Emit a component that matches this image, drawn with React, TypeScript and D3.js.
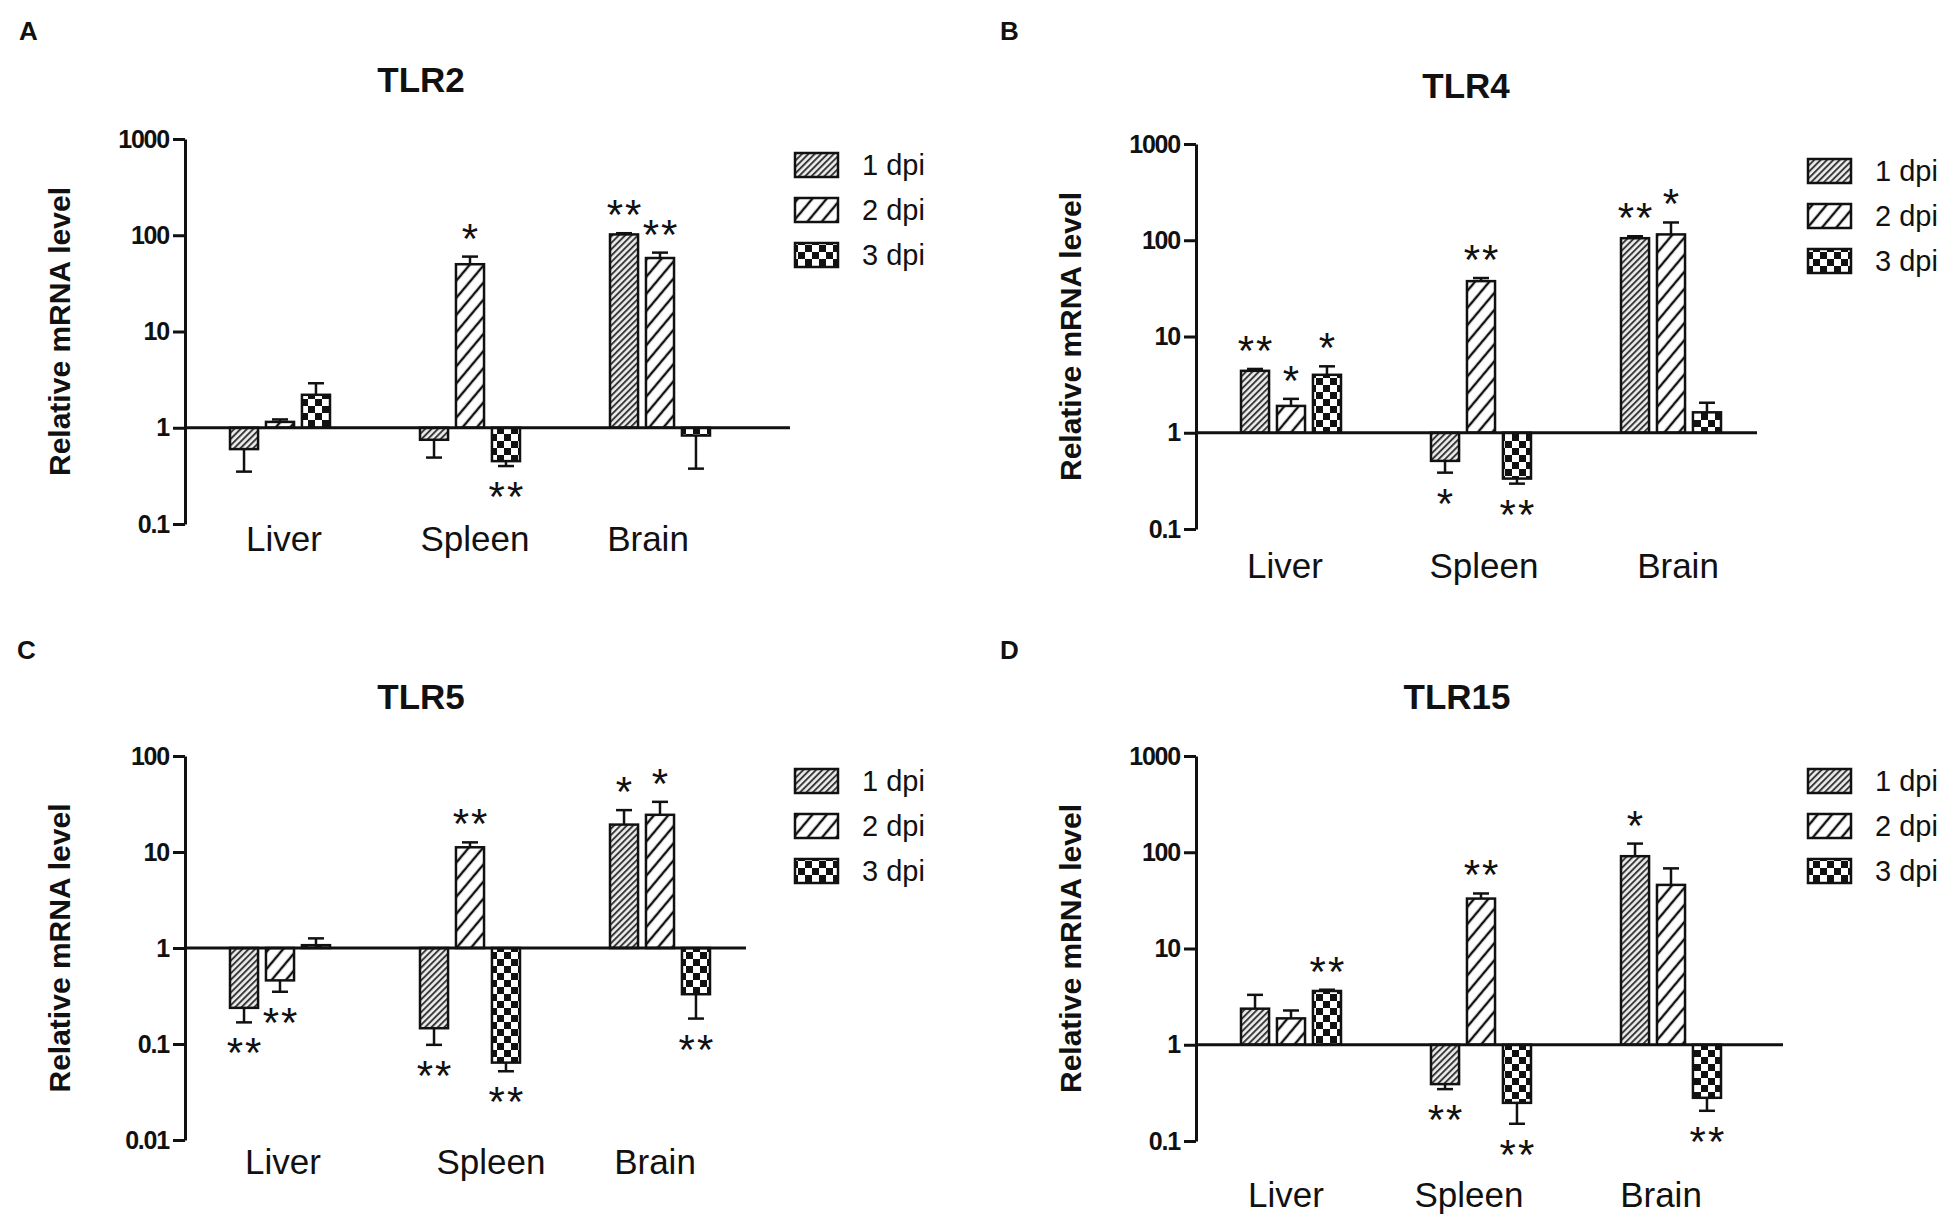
import { useEffect, useRef } from "react";
import * as d3 from "d3";

const categories = ["Liver", "Spleen", "Brain"];
const seriesNames = ["1 dpi", "2 dpi", "3 dpi"];

// rows = tissue, columns = 1/2/3 dpi
const tlr2Mean = [[0.6, 1.15, 2.2], [0.75, 50, 0.45], [102, 58, 0.83]];
const tlr2Err = [[0.35, 1.22, 2.9], [0.49, 60, 0.4], [105, 66, 0.376]];
const tlr2Sig = [["", "", ""], ["", "*", "**"], ["**", "**", ""]];

const tlr4Mean = [[4.4, 1.9, 4.0], [0.51, 37.6, 0.334], [105, 115, 1.63]];
const tlr4Err = [[4.6, 2.25, 4.9], [0.385, 40.5, 0.296], [110, 153, 2.05]];
const tlr4Sig = [["**", "*", "*"], ["*", "**", "**"], ["**", "*", ""]];

const tlr5Mean = [[0.238, 0.46, 1.07], [0.146, 11.2, 0.064], [19.3, 24.4, 0.33]];
const tlr5Err = [[0.168, 0.35, 1.26], [0.098, 12.6, 0.052], [27.3, 33.3, 0.184]];
const tlr5Sig = [["**", "**", ""], ["**", "**", "**"], ["*", "*", "**"]];

const tlr15Mean = [[2.37, 1.88, 3.62], [0.39, 33, 0.249], [91, 45.8, 0.281]];
const tlr15Err = [[3.3, 2.27, 3.73], [0.346, 37.3, 0.151], [123, 68, 0.206]];
const tlr15Sig = [["", "", "**"], ["**", "**", "**"], ["*", "", "**"]];

const ticksWide = [0.1, 1, 10, 100, 1000];
const ticksLow = [0.01, 0.1, 1, 10, 100];

const FONT = "'Liberation Sans', Arial, sans-serif";

interface PanelSpec {
  letter: string;
  title: string;
  mean: number[][];
  err: number[][];
  sig: string[][];
  ticks: number[];
  left: number;
  top: number;
  bottom: number;
  baseEnd: number;
  letterX: number;
  letterY: number;
  titleX: number;
  titleY: number;
  labelY: number;
  labelDx: number[];
  legendX: number;
  legendY: number;
}

const panels: PanelSpec[] = [
  { letter: "A", title: "TLR2", mean: tlr2Mean, err: tlr2Err, sig: tlr2Sig, ticks: ticksWide,
    left: 185, top: 139, bottom: 524, baseEnd: 790, letterX: 19, letterY: 40, titleX: 421, titleY: 92,
    labelY: 551, labelDx: [4, 5, -12], legendX: 795, legendY: 153 },
  { letter: "B", title: "TLR4", mean: tlr4Mean, err: tlr4Err, sig: tlr4Sig, ticks: ticksWide,
    left: 1196, top: 144, bottom: 529, baseEnd: 1757, letterX: 1000, letterY: 40, titleX: 1466, titleY: 98,
    labelY: 578, labelDx: [-6, 3, 7], legendX: 1808, legendY: 159 },
  { letter: "C", title: "TLR5", mean: tlr5Mean, err: tlr5Err, sig: tlr5Sig, ticks: ticksLow,
    left: 185, top: 756, bottom: 1140, baseEnd: 746, letterX: 17, letterY: 659, titleX: 421, titleY: 709,
    labelY: 1174, labelDx: [3, 21, -5], legendX: 795, legendY: 769 },
  { letter: "D", title: "TLR15", mean: tlr15Mean, err: tlr15Err, sig: tlr15Sig, ticks: ticksWide,
    left: 1196, top: 756, bottom: 1141, baseEnd: 1783, letterX: 1000, letterY: 659, titleX: 1457, titleY: 709,
    labelY: 1207, labelDx: [-5, -12, -10], legendX: 1808, legendY: 769 },
];

const patternIds = ["pat-1dpi", "pat-2dpi", "pat-3dpi"];

function drawPanel(svg: d3.Selection<SVGSVGElement, unknown, null, undefined>, p: PanelSpec) {
  const g = svg.append("g");
  const y = d3.scaleLog().domain([p.ticks[0], p.ticks[p.ticks.length - 1]]).range([p.bottom, p.top]);
  const x0 = d3.scaleBand().domain(categories).range([p.left, p.left + 570]).padding(0);
  const x1 = d3.scaleBand().domain(seriesNames).range([-50, 50]).paddingInner(0.22);
  const y1 = y(1);

  categories.forEach((cat, i) => {
    const c = x0(cat)! + x0.bandwidth() / 2;
    seriesNames.forEach((s, j) => {
      const v = p.mean[i][j];
      const e = p.err[i][j];
      const bx = c + x1(s)!;
      const bw = x1.bandwidth();
      const yv = y(v);
      const ye = y(e);
      const xc = bx + bw / 2;
      g.append("line").attr("x1", xc).attr("x2", xc).attr("y1", yv).attr("y2", ye)
        .attr("stroke", "#111").attr("stroke-width", 2.5);
      g.append("line").attr("x1", xc - 8).attr("x2", xc + 8).attr("y1", ye).attr("y2", ye)
        .attr("stroke", "#111").attr("stroke-width", 2.5);
      g.append("rect")
        .attr("x", bx).attr("y", Math.min(yv, y1))
        .attr("width", bw).attr("height", Math.abs(yv - y1))
        .attr("fill", `url(#${patternIds[j]})`)
        .attr("stroke", "#111").attr("stroke-width", 2.5);
      const mark = p.sig[i][j];
      if (mark) {
        // star centre sits just past the end of the error bar
        const cy = v >= 1 ? ye - 28 : ye + 21;
        g.append("text").attr("x", xc + 1).attr("y", cy + 24)
          .attr("text-anchor", "middle").attr("font-family", FONT).attr("font-size", 42)
          .attr("letter-spacing", 2).attr("fill", "#111").text(mark);
      }
    });
    g.append("text").attr("x", c + p.labelDx[i]).attr("y", p.labelY)
      .attr("text-anchor", "middle").attr("font-family", FONT).attr("font-size", 35)
      .attr("fill", "#111").text(cat);
  });

  // baseline at 1
  g.append("line").attr("x1", p.left).attr("x2", p.baseEnd).attr("y1", y1).attr("y2", y1)
    .attr("stroke", "#111").attr("stroke-width", 3);

  const axis = g.append("g").attr("transform", `translate(${p.left},0)`)
    .call(d3.axisLeft(y).tickValues(p.ticks).tickFormat((d) => String(d)).tickSize(12).tickSizeOuter(0));
  axis.select(".domain").attr("stroke", "#111").attr("stroke-width", 3);
  axis.selectAll(".tick line").attr("stroke", "#111").attr("stroke-width", 3);
  axis.selectAll(".tick text").attr("font-family", FONT).attr("font-size", 25)
    .attr("font-weight", "bold").attr("letter-spacing", -1.2).attr("fill", "#111").attr("x", -16);

  const midY = (p.top + p.bottom) / 2;
  g.append("text").attr("transform", `translate(${p.left - 115},${midY}) rotate(-90)`)
    .attr("text-anchor", "middle").attr("font-family", FONT).attr("font-size", 30)
    .attr("font-weight", "bold").attr("fill", "#111").text("Relative mRNA level");

  g.append("text").attr("x", p.titleX).attr("y", p.titleY).attr("text-anchor", "middle")
    .attr("font-family", FONT).attr("font-size", 35).attr("font-weight", "bold")
    .attr("fill", "#111").text(p.title);

  g.append("text").attr("x", p.letterX).attr("y", p.letterY)
    .attr("font-family", FONT).attr("font-size", 26).attr("font-weight", "bold")
    .attr("fill", "#111").text(p.letter);

  seriesNames.forEach((s, j) => {
    const ty = p.legendY + j * 45;
    g.append("rect").attr("x", p.legendX).attr("y", ty).attr("width", 43).attr("height", 24)
      .attr("fill", `url(#${patternIds[j]})`).attr("stroke", "#111").attr("stroke-width", 2.5);
    g.append("text").attr("x", p.legendX + 67).attr("y", ty + 22)
      .attr("font-family", FONT).attr("font-size", 29).attr("fill", "#111").text(s);
  });
}

export default function App() {
  const ref = useRef<SVGSVGElement | null>(null);

  useEffect(() => {
    const svg = d3.select(ref.current!);
    svg.selectAll("*").remove();

    const defs = svg.append("defs");
    const fine = defs.append("pattern").attr("id", patternIds[0]).attr("patternUnits", "userSpaceOnUse")
      .attr("width", 4.5).attr("height", 4.5).attr("patternTransform", "rotate(45)");
    fine.append("rect").attr("width", 4.5).attr("height", 4.5).attr("fill", "#eee");
    fine.append("line").attr("x1", 1).attr("x2", 1).attr("y1", 0).attr("y2", 4.5)
      .attr("stroke", "#333").attr("stroke-width", 1.9);

    const wide = defs.append("pattern").attr("id", patternIds[1]).attr("patternUnits", "userSpaceOnUse")
      .attr("width", 11).attr("height", 11).attr("patternTransform", "rotate(40)");
    wide.append("rect").attr("width", 11).attr("height", 11).attr("fill", "#fff");
    wide.append("line").attr("x1", 2).attr("x2", 2).attr("y1", 0).attr("y2", 11)
      .attr("stroke", "#111").attr("stroke-width", 2.4);

    const checker = defs.append("pattern").attr("id", patternIds[2]).attr("patternUnits", "userSpaceOnUse")
      .attr("width", 14).attr("height", 14);
    checker.append("rect").attr("width", 14).attr("height", 14).attr("fill", "#fff");
    checker.append("rect").attr("width", 7).attr("height", 7).attr("fill", "#111");
    checker.append("rect").attr("x", 7).attr("y", 7).attr("width", 7).attr("height", 7).attr("fill", "#111");

    panels.forEach((p) => drawPanel(svg, p));
  }, []);

  return (
    <svg
      ref={ref}
      width={1950}
      height={1226}
      style={{ position: "absolute", left: 0, top: 0, background: "#fff" }}
    />
  );
}
